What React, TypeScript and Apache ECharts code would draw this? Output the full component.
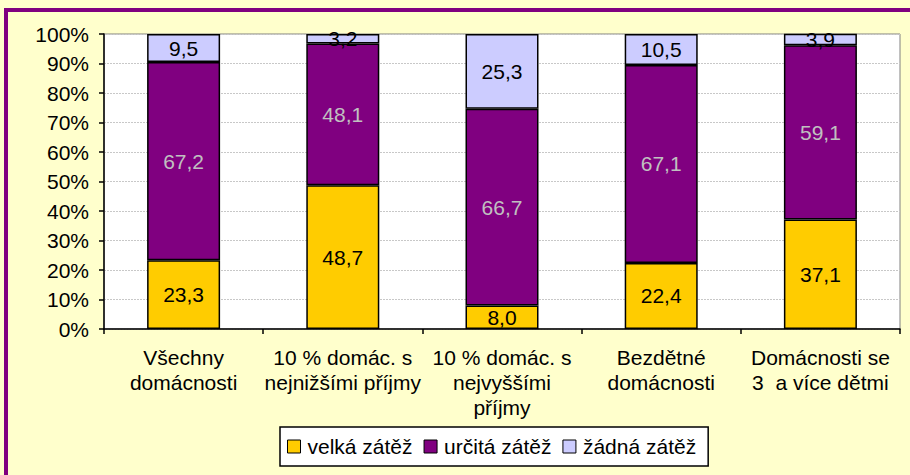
import React, { useEffect, useRef } from "react";
import * as echarts from "echarts";

const categories = [
  "Všechny\ndomácnosti",
  "10 % domác. s\nnejnižšími příjmy",
  "10 % domác. s\nnejvyššími\npříjmy",
  "Bezdětné\ndomácnosti",
  "Domácnosti se\n3  a více dětmi",
];
const velka = [23.3, 48.7, 8.0, 22.4, 37.1];
const urcita = [67.2, 48.1, 66.7, 67.1, 59.1];
const zadna = [9.5, 3.2, 25.3, 10.5, 3.9];
const seriesNames = ["velká zátěž", "určitá zátěž", "žádná zátěž"];

const FONT = "'Liberation Sans', Arial, sans-serif";
const FS = 21;

export default function App() {
  const ref = useRef<HTMLDivElement>(null);
  useEffect(() => {
    if (!ref.current) return;
    const chart = echarts.init(ref.current, undefined, { renderer: "svg" });
    const fmt = (p: any) => Number(p.value).toFixed(1).replace(".", ",");
    const mk = (name: string, data: number[], color: string, labelColor: string) => ({
      name,
      type: "bar",
      stack: "total",
      data,
      barWidth: 73,
      itemStyle: { color, borderColor: "#000", borderWidth: 1.5 },
      label: {
        show: true,
        position: "inside",
        formatter: fmt,
        color: labelColor,
        fontSize: FS,
        fontFamily: FONT,
      },
    });
    chart.setOption({
      animation: false,
      backgroundColor: "#FFFFCC",
      textStyle: { fontFamily: FONT },
      graphic: [
        { type: "rect", shape: { x: 4, y: 8, width: 4, height: 467 }, style: { fill: "#800080" } },
        { type: "rect", shape: { x: 4, y: 8, width: 906, height: 4 }, style: { fill: "#800080" } },
      ],
      grid: {
        left: 104,
        right: 10,
        top: 34,
        bottom: 146,
        show: true,
        backgroundColor: "#fff",
        borderColor: "#808080",
        borderWidth: 1,
      },
      legend: {
        left: 280,
        top: 427,
        padding: [9, 12, 9, 7],
        backgroundColor: "#fff",
        borderColor: "#000",
        borderWidth: 1.5,
        itemWidth: 13,
        itemHeight: 13,
        itemGap: 11,
        icon: "rect",
        itemStyle: { borderColor: "#000", borderWidth: 1 },
        textStyle: { fontSize: FS, color: "#000", fontFamily: FONT, padding: [0, 0, 0, 2] },
        data: seriesNames,
      },
      xAxis: {
        type: "category",
        data: categories,
        axisLine: { lineStyle: { color: "#000", width: 1.5 } },
        axisTick: { show: true, length: 5, lineStyle: { color: "#000", width: 1.5 } },
        axisLabel: {
          interval: 0,
          margin: 16,
          fontSize: FS,
          lineHeight: 25,
          color: "#000",
          fontFamily: FONT,
        },
      },
      yAxis: {
        type: "value",
        min: 0,
        max: 100,
        interval: 10,
        axisLine: { show: true, lineStyle: { color: "#000", width: 1.5 } },
        axisTick: { show: true, length: 5, lineStyle: { color: "#000", width: 1.5 } },
        axisLabel: {
          formatter: "{value}%",
          fontSize: FS,
          color: "#000",
          margin: 15,
          fontFamily: FONT,
        },
        splitLine: { show: true, lineStyle: { color: "#c8c8c8", type: [2, 1], width: 1 } },
      },
      series: [
        mk(seriesNames[0], velka, "#FFCC00", "#000"),
        mk(seriesNames[1], urcita, "#800080", "#C0C0C0"),
        mk(seriesNames[2], zadna, "#CCCCFF", "#000"),
      ],
    });
    return () => chart.dispose();
  }, []);
  return (
    <div
      ref={ref}
      style={{ position: "absolute", left: 0, top: 0, width: 910, height: 475 }}
    />
  );
}
